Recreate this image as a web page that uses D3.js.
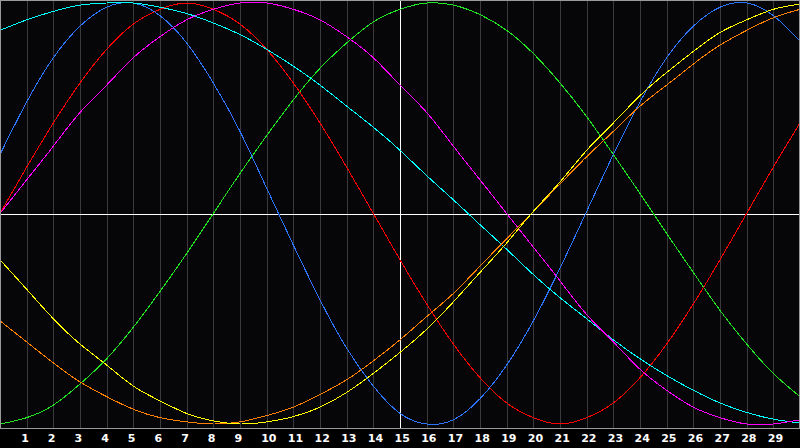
<!DOCTYPE html>
<html>
<head>
<meta charset="utf-8">
<script src="https://cdn.jsdelivr.net/npm/d3@7"></script>
<style>
  html, body { margin: 0; padding: 0; background: #000; }
  #chart { width: 800px; height: 448px; }
  .tick text { font-family: "DejaVu Sans", sans-serif; font-weight: bold; font-size: 11px; }
</style>
</head>
<body>
<div id="chart"></div>
<script>
  // days (one point per day)
  const days = [0, 1, 2, 3, 4, 5, 6, 7, 8, 9, 10, 11, 12, 13, 14, 15, 16, 17, 18, 19, 20, 21, 22, 23, 24, 25, 26, 27, 28, 29, 30];
  const dayLabels = [1, 2, 3, 4, 5, 6, 7, 8, 9, 10, 11, 12, 13, 14, 15, 16, 17, 18, 19, 20, 21, 22, 23, 24, 25, 26, 27, 28, 29];
  const todayMark = 15;

  const redValues = [0, 0.22, 0.43, 0.62, 0.78, 0.90, 0.97, 1, 0.97, 0.90, 0.78, 0.62, 0.43, 0.22, 0, -0.22, -0.43, -0.62, -0.78, -0.90, -0.97, -1, -0.97, -0.90, -0.78, -0.62, -0.43, -0.22, 0, 0.22, 0.43];
  const greenValues = [-1, -0.97, -0.91, -0.81, -0.69, -0.54, -0.37, -0.19, 0, 0.19, 0.37, 0.54, 0.69, 0.81, 0.91, 0.97, 1, 0.99, 0.945, 0.87, 0.76, 0.62, 0.46, 0.28, 0.095, -0.095, -0.28, -0.46, -0.62, -0.76, -0.87];
  const blueValues = [0.28, 0.53, 0.74, 0.89, 0.98, 1, 0.94, 0.81, 0.62, 0.39, 0.12, -0.15, -0.41, -0.64, -0.82, -0.95, -1, -0.98, -0.88, -0.72, -0.51, -0.26, 0.01, 0.28, 0.53, 0.74, 0.89, 0.98, 1, 0.94, 0.82];
  const cyanValues = [0.87, 0.92, 0.96, 0.99, 1, 1, 0.98, 0.95, 0.905, 0.85, 0.78, 0.70, 0.61, 0.51, 0.41, 0.30, 0.18, 0.065, -0.053, -0.17, -0.29, -0.40, -0.50, -0.60, -0.69, -0.77, -0.84, -0.90, -0.945, -0.977, -0.995];
  const magentaValues = [0, 0.16, 0.32, 0.48, 0.61, 0.74, 0.84, 0.92, 0.97, 1, 1, 0.97, 0.92, 0.84, 0.74, 0.61, 0.48, 0.32, 0.16, 0, -0.16, -0.32, -0.48, -0.61, -0.74, -0.84, -0.92, -0.97, -1, -1, -0.98];
  const yellowValues = [-0.22, -0.36, -0.50, -0.62, -0.72, -0.82, -0.89, -0.95, -0.985, -1, -0.99, -0.965, -0.92, -0.85, -0.76, -0.66, -0.55, -0.42, -0.28, -0.14, 0.01, 0.15, 0.30, 0.43, 0.56, 0.67, 0.77, 0.86, 0.92, 0.97, 0.995];
  const orangeValues = [-0.51, -0.61, -0.71, -0.80, -0.87, -0.93, -0.97, -0.99, -1, -0.99, -0.96, -0.92, -0.86, -0.79, -0.70, -0.60, -0.49, -0.38, -0.25, -0.12, 0.01, 0.14, 0.27, 0.39, 0.51, 0.61, 0.71, 0.80, 0.87, 0.93, 0.97];

  const series = [
    { name: "green", color: "#22e622", values: greenValues },
    { name: "red", color: "#ff0000", values: redValues },
    { name: "blue", color: "#2a76ff", values: blueValues },
    { name: "cyan", color: "#00ffff", values: cyanValues },
    { name: "magenta", color: "#ff00ff", values: magentaValues },
    { name: "orange", color: "#ff8000", values: orangeValues },
    { name: "yellow", color: "#ffff00", values: yellowValues }
  ];

  const width = 800;
  const height = 448;
  const plotBottom = 428;

  const svg = d3.select("#chart")
    .append("svg")
    .attr("width", width)
    .attr("height", height)
    .style("display", "block");

  svg.append("rect")
    .attr("width", width)
    .attr("height", height)
    .attr("fill", "#000");

  svg.append("rect")
    .attr("x", 0)
    .attr("y", 0)
    .attr("width", width)
    .attr("height", plotBottom)
    .attr("fill", "#060609");

  const xScale = d3.scaleLinear()
    .domain([0, 30])
    .range([0, width]);
  const yScale = d3.scaleLinear()
    .domain([-1, 1])
    .range([424, 3]);

  // vertical day grid
  svg.append("g")
    .selectAll("line")
    .data(dayLabels)
    .join("line")
    .attr("x1", d => Math.round(xScale(d)) + 0.5)
    .attr("x2", d => Math.round(xScale(d)) + 0.5)
    .attr("y1", 0)
    .attr("y2", plotBottom)
    .attr("stroke", d => d === todayMark ? "#ffffff" : "#3a3a3a")
    .attr("shape-rendering", "crispEdges");

  // zero line
  svg.append("line")
    .attr("x1", 0)
    .attr("x2", width)
    .attr("y1", Math.round(yScale(0)) + 0.5)
    .attr("y2", Math.round(yScale(0)) + 0.5)
    .attr("stroke", "#ffffff")
    .attr("shape-rendering", "crispEdges");

  // the white day line sits above the zero line
  svg.append("line")
    .attr("x1", Math.round(xScale(todayMark)) + 0.5)
    .attr("x2", Math.round(xScale(todayMark)) + 0.5)
    .attr("y1", 0)
    .attr("y2", plotBottom)
    .attr("stroke", "#ffffff")
    .attr("shape-rendering", "crispEdges");

  const line = d3.line()
    .x((d, i) => xScale(days[i]))
    .y(d => yScale(d))
    .curve(d3.curveNatural);

  svg.append("g")
    .selectAll("path")
    .data(series)
    .join("path")
    .attr("d", d => line(d.values))
    .attr("fill", "none")
    .attr("stroke", d => d.color)
    .attr("stroke-width", 1)
    .attr("shape-rendering", "crispEdges");

  // frame
  svg.append("rect")
    .attr("x", 0.5)
    .attr("y", 0.5)
    .attr("width", width - 1)
    .attr("height", plotBottom - 0.5)
    .attr("fill", "none")
    .attr("stroke", "#9a9a9a")
    .attr("shape-rendering", "crispEdges");

  // labels start a little left of their grid line
  const xAxis = d3.axisBottom(xScale)
    .tickValues(dayLabels)
    .tickSize(0)
    .tickPadding(0)
    .tickFormat(d => d);

  const axisGroup = svg.append("g")
    .attr("transform", `translate(-6, ${plotBottom + 6})`)
    .call(xAxis);
  axisGroup.select(".domain").remove();
  axisGroup.selectAll("text")
    .attr("text-anchor", "start")
    .attr("fill", "#ffffff");
</script>
</body>
</html>
